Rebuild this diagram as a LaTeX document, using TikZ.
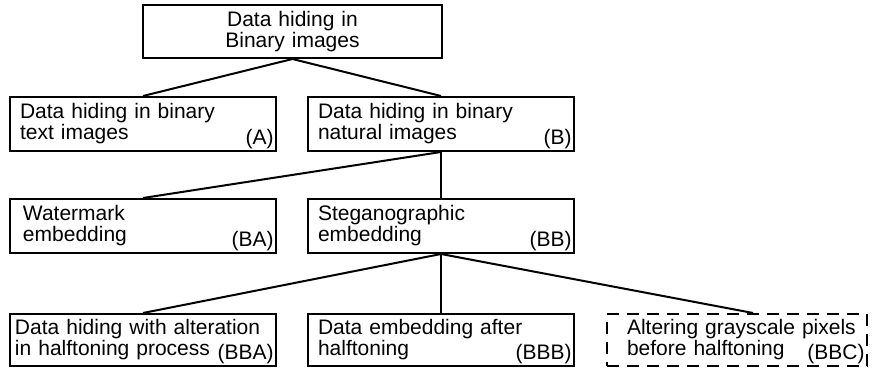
\documentclass[tikz,border=0pt]{standalone}
\usepackage{fontspec}
\setmainfont{Liberation Sans}
\usetikzlibrary{positioning}

\begin{document}
\begin{tikzpicture}[
    font=\fontsize{10.5}{10.5}\selectfont,
    box/.style={draw, line width=1pt, minimum width=133pt, minimum height=27pt,
                inner xsep=5pt, inner ysep=2pt, text width=123pt, align=left},
    tag/.style={label={[anchor=south east, inner sep=1.5pt]south east:#1}},
    link/.style={line width=1pt},
  ]
    \useasboundingbox (0,0) rectangle (437pt,184.5pt);
    \node[box, minimum width=149.5pt, minimum height=26.5pt, text width=139.5pt,
          align=center] (root) at (146.25pt,168.75pt) {Data hiding in\\Binary images};
    \node[box, tag=(A)] (a) at (71.5pt,122.5pt) {Data hiding in binary\\text images};
    \node[box, right=15pt of a, tag=(B)] (b) {Data hiding in binary\\natural images};
    \node[box, below=23pt of a, inner xsep=6.5pt, text width=120pt, tag=(BA)] (ba) {Watermark\\embedding};
    \node[box, right=15pt of ba, tag=(BB)] (bb) {Steganographic\\embedding};
    \node[box, below=29.5pt of ba, minimum height=26pt, inner xsep=2.5pt, text width=128pt,
          tag=(BBA)] (bba) {Data hiding with alteration\\in halftoning process};
    \node[box, right=15pt of bba, minimum height=26pt, tag=(BBB)] (bbb) {Data embedding after\\halftoning};
    \node[box, right=15.5pt of bbb, minimum width=130pt, minimum height=26pt, inner xsep=5pt,
          text width=120pt, dash pattern=on 6pt off 4pt, tag=(BBC)] (bbc)
          {\hspace*{5pt}\mbox{Altering grayscale pixels}\\\hspace*{5pt}\mbox{before halftoning}};
    \draw[link] (root.south) -- (a.north);
    \draw[link] (root.south) -- (b.north);
    \draw[link] (b.south) -- (ba.north);
    \draw[link] (b.south) -- (bb.north);
    \draw[link] (bb.south) -- (bba.north);
    \draw[link] (bb.south) -- (bbb.north);
    \draw[link] (bb.south) -- ([xshift=8pt]bbc.north);
  \end{tikzpicture}
\end{document}
